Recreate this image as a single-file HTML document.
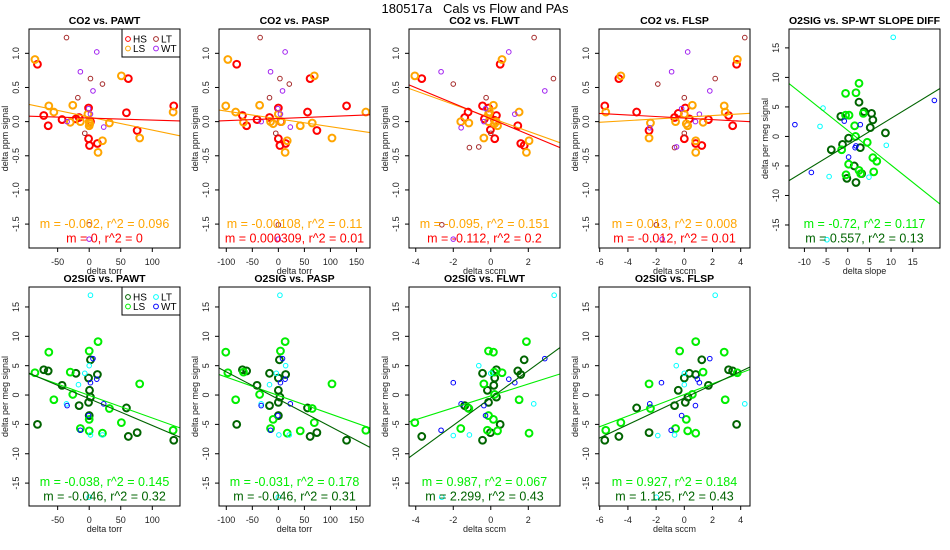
<!DOCTYPE html>
<html><head><meta charset="utf-8"><style>
body{margin:0;background:#fff;}
svg{display:block;font-family:"Liberation Sans",sans-serif;}
</style></head><body>
<svg id="chart" width="950" height="550" viewBox="0 0 950 550" xmlns="http://www.w3.org/2000/svg">
<rect width="950" height="550" fill="#fff"/>
<text x="475" y="13" text-anchor="middle" font-size="13" fill="#000" style="white-space:pre" xml:space="preserve">180517a   Cals vs Flow and PAs</text>
</svg>
<script>
// ---- data ----
const p1HS=[[-82,0.84],[-72,0.09],[-65,-0.06],[-43,0.03],[-21,0.04],[-16,0.06],[-1,0.2],[-1,-0.25],[0.5,-0.35],[2,0],[13,-0.32],[59,0.13],[62,0.63],[76,-0.13],[134,0.23]];
const p1LS=[[-86,0.91],[-64,0.23],[-56,0.14],[-30,-0.01],[-26,0.24],[-14,0],[-2,0.11],[0,-0.06],[0,0],[1,-0.03],[14,-0.45],[21,-0.28],[32,-0.02],[51,0.67],[80,-0.24],[133,0.14]];
const p1LT=[[-36,1.23],[-18,0.35],[-7,-0.17],[2,0.63],[21,0.55],[0,-1.51]];
const p1WT=[[12,1.02],[-14,0.73],[6,0.45],[-35,0],[-1,0.19],[2,0.11],[23,-0.08],[0,-1.72]];
const p1Fit=[[-0.00192,0.068],[-0.00029,0.052]];

const p2HS=[[-80,0.84],[-69,0.09],[-61,-0.06],[-41,0.03],[-17,0.06],[0,0.2],[0,-0.25],[3,-0.35],[5,0],[14,-0.32],[56,0.14],[61,0.63],[74,-0.13],[131,0.23]];
const p2LS=[[-97,0.91],[-101,0.23],[-82,0.14],[-67,-0.01],[-36,0.24],[-15,0],[-10,-0.03],[0,0.11],[6,0],[13,-0.45],[17,-0.28],[42,-0.06],[65,-0.02],[69,0.67],[103,-0.24],[168,0.14]];
const p2LT=[[-35,1.23],[-17,0.35],[-5,-0.17],[3,0.63],[21,0.55],[0,-1.51]];
const p2WT=[[13,1.02],[-15,0.73],[8,0.45],[-33,0],[-1,0.19],[4,0.11],[23,-0.08],[0,-1.72]];
const p2Fit=[[-0.00114,0.04],[0.00031,0.045]];

const p3HS=[[-3.68,0.63],[-1.21,0.14],[-1.39,0.06],[-0.44,0.23],[-0.34,0.04],[-0.12,0.2],[-0.02,-0.12],[0.21,-0.25],[0.3,0.09],[0.2,0.02],[0.5,0.84],[1.44,-0.06],[1.6,-0.32],[1.78,-0.35]];
const p3LS=[[-4.05,0.67],[-1.6,0],[-1.17,-0.02],[-0.37,-0.24],[-0.12,0],[-0.12,0.11],[-0.07,0.14],[0.14,0.24],[0.2,-0.03],[0.28,0],[0.36,-0.06],[0.6,0.91],[1.51,0.14],[1.9,-0.45],[2.04,-0.28]];
const p3LT=[[-2,0.55],[-0.25,0.35],[0,-0.17],[2.31,1.23],[3.34,0.63],[-1.14,-0.38],[-2.61,-1.51],[-0.64,-0.37]];
const p3WT=[[-2.65,0.73],[0.96,1.02],[2.88,0.45],[-1.58,-0.09],[-0.37,0],[-0.28,0.19],[1.28,0.11],[-2,-1.72]];
const p3Fit=[[-0.0987,0.055],[-0.114,0.041]];

const p4HS=[[-5.64,0.23],[-4.64,0.63],[-3.38,0.14],[-2.5,-0.13],[-0.69,0.06],[-0.43,0.12],[0,-0.25],[0.07,0.2],[0.36,0.04],[0.81,-0.32],[1.24,-0.35],[1.71,0.03],[3.14,0.09],[3.43,-0.06],[3.71,0.84]];
const p4LS=[[-5.57,0.14],[-4.5,0.67],[-2.4,-0.02],[-2.5,-0.24],[-0.62,0],[0,0.11],[0.14,-0.03],[0.24,-0.06],[0.57,0.24],[0.81,-0.28],[0.81,-0.45],[1.33,-0.01],[2.83,0.23],[2.9,0.14],[3.76,0.91]];
const p4LT=[[-1.88,0.55],[0,0.35],[0,-0.17],[2.19,0.63],[4.29,1.23],[-0.69,-0.38],[-1.98,-1.51]];
const p4WT=[[-0.9,0.73],[0.24,1.02],[1.81,0.45],[-0.19,0.19],[1.07,0.11],[0.79,0],[-2.45,-0.09],[-1.57,-1.72],[-0.55,-0.37]];
const p4Fit=[[0.0123,0.064],[-0.0113,0.052]];

const p5HS=[[2.6,5.8],[3.8,4.2],[5.5,3.9],[5.8,2.8],[5.2,1.5],[8.7,0.6],[-1.6,3.4],[0.2,-0.3],[-1.2,-1.35],[-3.8,-2.25],[2.9,-1.9],[1.5,-5],[3.2,-6.3],[-0.2,-7.1],[1.9,-7.8]];
const p5LS=[[2.6,9],[-0.5,7.3],[1.9,7.4],[0.3,3.6],[-0.5,3.6],[3.6,3.9],[1.6,1.8],[1.8,0],[4.5,-1],[-1.4,-2.25],[5.8,-3.6],[6.7,-4.2],[0.2,-4.7],[-0.4,-6.5],[2.6,-5.75],[3,-6.3],[6,-6]];
const p5LT=[[10.5,16.8],[-5.7,4.8],[-6.4,1.7],[8.9,-1.5],[4.9,-6.9],[-4.8,-17.5],[-4.3,-6.8]];
const p5WT=[[20,6.1],[-12.2,2],[-8.4,-6.1],[-0.8,2.6],[2.9,2.0],[0.2,-3.5],[1.9,-1.6],[1.7,-1.9]];
const p5Fit=[[-0.586,1.02],[0.448,-1.42]];

const p6HS=[[-82,-5],[-72,4.3],[-65,4.1],[-43,1.65],[-21,3.7],[-16,-1.8],[-1,2.9],[-1,-1.25],[0.5,0.8],[2,6],[2,-0.35],[0,-3.5],[13,3.5],[59,-2.2],[62,-7.05],[76,-6.4],[134,-7.7]];
const p6LS=[[-86,3.8],[-64,7.3],[-56,-0.8],[-30,3.9],[-26,0.1],[-14,-5.7],[0,7.5],[0,-4.15],[0,-6.1],[14,9.1],[21,-6.5],[32,-2.3],[51,-4.7],[80,1.9],[133,-6]];
const p6LT=[[2,17],[-7,3.7],[-17,1.76],[-36,-1.5],[21,-6.8],[0,-17.4],[0,5],[2,-6.8]];
const p6WT=[[6,6.2],[12,2.7],[2,2.1],[-35,-1.8],[23,-1.5],[-1,-3.5],[-14,-6]];
const p6Fit=[[-0.0385,-0.06],[-0.0456,-0.63]];

const p7HS=[[-80,-5],[-69,4.3],[-61,4.1],[-41,1.65],[-17,3.7],[-17,-1.8],[0,2.9],[0,-1.25],[0,0.8],[2,6],[3,-0.35],[0,-3.5],[14,3.5],[56,-2.2],[61,-7.05],[74,-6.4],[131,-7.7]];
const p7LS=[[-101,7.3],[-97,3.8],[-82,-0.8],[-67,3.9],[-36,0.1],[-15,-5.7],[-10,-4.15],[4,7.5],[13,9.1],[17,-6.5],[42,-6.1],[65,-2.3],[69,-4.7],[103,1.9],[168,-6]];
const p7LT=[[3,17],[-4,3.7],[-17,1.76],[-33,-1.5],[21,-6.8],[0,-17.4],[14,5],[1,-6.8]];
const p7WT=[[8,6.2],[13,2.7],[4,2.1],[-33,-1.8],[23,-1.5],[-1,-3.5],[-15,-6]];
const p7Fit=[[-0.0314,-0.08],[-0.0466,-0.71]];

const p8HS=[[-3.68,-7.05],[-1.39,-1.8],[-1.21,-2.2],[-0.44,3.7],[-0.44,-7.7],[-0.18,0.8],[-0.12,-1.25],[-0.02,-6.4],[0.16,1.65],[0.21,2.9],[0.3,4.3],[0.3,-0.35],[0.5,-5],[1.44,4.1],[1.6,3.5],[1.78,6]];
const p8LS=[[-4.05,-4.7],[-1.6,-5.7],[-1.17,-2.3],[-0.37,1.9],[-0.12,7.5],[-0.12,-3.5],[-0.18,-6],[0.14,7.3],[0.14,-4.15],[0.2,0.1],[0.36,-6.1],[0.6,3.8],[1.51,-0.8],[1.9,9.1],[2.04,-6.5],[0.18,3.9]];
const p8LT=[[3.38,17],[-2,-6.9],[-2.61,-17.4],[2.29,-1.5],[0,3.7],[-1.14,-6.8],[-0.64,5]];
const p8WT=[[2.88,6.2],[0.96,2.7],[1.28,2.1],[-2,2.1],[-1.58,-1.5],[-0.37,-1.8],[-0.28,-3.5],[-2.65,-6]];
const p8Fit=[[1.013,-0.15],[2.33,-0.51]];

const p9HS=[[-5.64,-7.7],[-4.64,-7.05],[-3.38,-2.2],[-2.5,-6.4],[-0.69,-1.8],[-0.43,0.8],[0.07,-1.25],[0,2.9],[0.26,-0.35],[0.36,3.7],[0.81,3.5],[1.24,6],[1.71,1.65],[3.14,4.3],[3.43,4.1],[3.71,-5]];
const p9LS=[[-5.57,-6],[-4.5,-4.7],[-2.5,1.9],[-2.4,-2.3],[-0.62,-5.7],[-0.33,7.5],[0.14,-4.15],[0.24,-6.1],[0.57,0.1],[0.81,9.1],[0.81,-6.5],[1.33,3.9],[2.83,7.3],[2.9,-0.8],[3.76,3.8]];
const p9LT=[[2.19,17],[0,3.7],[0,1.76],[4.29,-1.5],[-1.88,-6.9],[-1.98,-17.4],[-0.57,5],[-0.69,-6.8]];
const p9WT=[[1.81,6.2],[0.93,2.7],[1.07,2.1],[-1.62,2.1],[-2.45,-1.5],[0.79,-1.8],[-0.19,-3.5],[-0.93,-6]];
const p9Fit=[[0.915,0.09],[1.132,-0.51]];

const co2YTicks=[-1.5,-1.0,-0.5,0.0,0.5,1.0];
const co2YLabels=["-1.5","-1.0","-0.5","0.0","0.5","1.0"];
const o2YTicks=[-15,-10,-5,0,5,10,15];
const torrWtTicks=[-50,0,50,100];
const torrSpTicks=[-100,-50,0,50,100,150];
const flwtTicks=[-4,-2,0,2];
const flspTicks=[-6,-4,-2,0,2,4];
const slopeTicks=[-10,-5,0,5,10,15];
const groupNames=["HS","LS","LT","WT"];

// ---- rendering ----
const NS="http://www.w3.org/2000/svg";
const svg=document.getElementById('chart');
function mk(tag,attrs,parent){const e=document.createElementNS(NS,tag);for(const k in attrs)e.setAttribute(k,attrs[k]);(parent||svg).appendChild(e);return e;}
const co2Col={HS:"#ff0000",LS:"#ffa500",LT:"#a52a2a",WT:"#a020f0",fit:["#ffa500","#ff0000"]};
const o2Col={HS:"#006400",LS:"#00ee00",LT:"#00ffff",WT:"#0000ff",fit:["#00ee00","#006400"]};

const panels=[
 {id:"co2-vs-pawt",title:"CO2 vs. PAWT",x0:29,y0:29,xl:[-95.4,143.9],yl:[-1.85,1.356],xt:torrWtTicks,yt:co2YTicks,ytl:co2YLabels,xlab:"delta torr",ylab:"delta ppm signal",data:[p1HS,p1LS,p1LT,p1WT],fit:p1Fit,col:co2Col,st:["m = -0.002, r^2 = 0.096","m = 0, r^2 = 0"],legend:true},
 {id:"co2-vs-pasp",title:"CO2 vs. PASP",x0:219,y0:29,xl:[-114,176],yl:[-1.85,1.356],xt:torrSpTicks,yt:co2YTicks,ytl:co2YLabels,xlab:"delta torr",ylab:"delta ppm signal",data:[p2HS,p2LS,p2LT,p2WT],fit:p2Fit,col:co2Col,st:["m = -0.00108, r^2 = 0.11","m = 0.000309, r^2 = 0.01"]},
 {id:"co2-vs-flwt",title:"CO2 vs. FLWT",x0:409,y0:29,xl:[-4.36,3.69],yl:[-1.85,1.356],xt:flwtTicks,yt:co2YTicks,ytl:co2YLabels,xlab:"delta sccm",ylab:"delta ppm signal",data:[p3HS,p3LS,p3LT,p3WT],fit:p3Fit,col:co2Col,st:["m = -0.095, r^2 = 0.151","m = -0.112, r^2 = 0.2"]},
 {id:"co2-vs-flsp",title:"CO2 vs. FLSP",x0:599,y0:29,xl:[-6.05,4.66],yl:[-1.85,1.356],xt:flspTicks,yt:co2YTicks,ytl:co2YLabels,xlab:"delta sccm",ylab:"delta ppm signal",data:[p4HS,p4LS,p4LT,p4WT],fit:p4Fit,col:co2Col,st:["m = 0.013, r^2 = 0.008","m = -0.012, r^2 = 0.01"]},
 {id:"o2sig-vs-slope-diff",title:"O2SIG vs. SP-WT SLOPE DIFF",x0:789,y0:29,xl:[-13.56,21.3],yl:[-18.9,18.2],xt:slopeTicks,yt:o2YTicks,ytl:o2YTicks.map(String),xlab:"delta slope",ylab:"delta per meg signal",data:[p5HS,p5LS,p5LT,p5WT],fit:p5Fit,col:o2Col,st:["m = -0.72, r^2 = 0.117","m = 0.557, r^2 = 0.13"]},
 {id:"o2sig-vs-pawt",title:"O2SIG vs. PAWT",x0:29,y0:287,xl:[-95.4,143.9],yl:[-18.9,18.4],xt:torrWtTicks,yt:o2YTicks,ytl:o2YTicks.map(String),xlab:"delta torr",ylab:"delta per meg signal",data:[p6HS,p6LS,p6LT,p6WT],fit:p6Fit,col:o2Col,st:["m = -0.038, r^2 = 0.145","m = -0.046, r^2 = 0.32"],legend:true},
 {id:"o2sig-vs-pasp",title:"O2SIG vs. PASP",x0:219,y0:287,xl:[-114,176],yl:[-18.9,18.4],xt:torrSpTicks,yt:o2YTicks,ytl:o2YTicks.map(String),xlab:"delta torr",ylab:"delta per meg signal",data:[p7HS,p7LS,p7LT,p7WT],fit:p7Fit,col:o2Col,st:["m = -0.031, r^2 = 0.178","m = -0.046, r^2 = 0.31"]},
 {id:"o2sig-vs-flwt",title:"O2SIG vs. FLWT",x0:409,y0:287,xl:[-4.36,3.69],yl:[-18.9,18.4],xt:flwtTicks,yt:o2YTicks,ytl:o2YTicks.map(String),xlab:"delta sccm",ylab:"delta per meg signal",data:[p8HS,p8LS,p8LT,p8WT],fit:p8Fit,col:o2Col,st:["m = 0.987, r^2 = 0.067","m = 2.299, r^2 = 0.43"]},
 {id:"o2sig-vs-flsp",title:"O2SIG vs. FLSP",x0:599,y0:287,xl:[-6.05,4.66],yl:[-18.9,18.4],xt:flspTicks,yt:o2YTicks,ytl:o2YTicks.map(String),xlab:"delta sccm",ylab:"delta per meg signal",data:[p9HS,p9LS,p9LT,p9WT],fit:p9Fit,col:o2Col,st:["m = 0.927, r^2 = 0.184","m = 1.125, r^2 = 0.43"]}
];
const W=151,H=219;
panels.forEach(p=>{
 const g=mk('g',{});
 
 
 const sx=v=>p.x0+(v-p.xl[0])/(p.xl[1]-p.xl[0])*W;
 const sy=v=>p.y0+H-(v-p.yl[0])/(p.yl[1]-p.yl[0])*H;
 const clip=mk('clipPath',{id:'clip-'+p.id},g);
 mk('rect',{x:p.x0,y:p.y0,width:W,height:H},clip);
 const t=mk('text',{x:p.x0+W/2,y:p.y0-5,'text-anchor':'middle','font-size':'10.5','font-weight':'bold'},g);
 t.textContent=p.title;
 
 
 const xb=p.y0+H;
 mk('line',{x1:sx(p.xt[0]),x2:sx(p.xt[p.xt.length-1]),y1:xb,y2:xb,stroke:'#000','stroke-width':1},g);
 p.xt.forEach(v=>{
  mk('line',{x1:sx(v),x2:sx(v),y1:xb,y2:xb+4,stroke:'#000','stroke-width':1},g);
  const tl=mk('text',{x:sx(v),y:xb+17,'text-anchor':'middle','font-size':'9',fill:'#222'},g);
  tl.textContent=String(v);
  
  
 });
 p.yt.forEach((v,i)=>{
  mk('line',{x1:p.x0-4,x2:p.x0,y1:sy(v),y2:sy(v),stroke:'#000','stroke-width':1},g);
  const yy=sy(v),xx=p.x0-10;
  const tl=mk('text',{x:xx,y:yy,'text-anchor':'middle','font-size':'9',fill:'#222',transform:`rotate(-90 ${xx} ${yy})`},g);
  tl.textContent=p.ytl[i];
  
  
 });
 mk('line',{x1:p.x0,x2:p.x0,y1:sy(p.yt[0]),y2:sy(p.yt[p.yt.length-1]),stroke:'#000'},g);
 const xlab=mk('text',{x:p.x0+W/2,y:xb+26,'text-anchor':'middle','font-size':'9',fill:'#222'},g);
 xlab.textContent=p.xlab;
 
 
 const lx=p.x0-21,ly=p.y0+H/2;
 const ylab=mk('text',{x:lx,y:ly,'text-anchor':'middle','font-size':'9',fill:'#222',transform:`rotate(-90 ${lx} ${ly})`},g);
 ylab.textContent=p.ylab;
 
 
 const pg=mk('g',{'clip-path':`url(#clip-${p.id})`},g);
 p.data.forEach((arr,gi)=>{
  const name=groupNames[gi];const thick=gi<2;
  arr.forEach(pt=>{
   const c=mk('circle',{cx:sx(pt[0]),cy:sy(pt[1]),r:thick?3.4:2.3,fill:'none',stroke:p.col[name],'stroke-width':thick?2:1},pg);
   
   
  });
 });
 p.fit.forEach((f,fi)=>{
  const l=mk('line',{x1:sx(p.xl[0]),y1:sy(f[0]*p.xl[0]+f[1]),x2:sx(p.xl[1]),y2:sy(f[0]*p.xl[1]+f[1]),stroke:p.col.fit[fi],'stroke-width':1.1},pg);
  
  
 });
 p.st.forEach((s,si)=>{
  const st=mk('text',{x:p.x0+W/2,y:p.y0+H-20+si*14.5,'text-anchor':'middle','font-size':'12.5',fill:p.col.fit[si]},g);
  st.textContent=s;
  
  
 });
 mk('rect',{x:p.x0,y:p.y0,width:W,height:H,fill:'none',stroke:'#000','stroke-width':1},g);
 if(p.legend){
  const lg=mk('g',{},g);
  
  
  mk('rect',{x:p.x0+93,y:p.y0,width:58,height:28,fill:'#fff',stroke:'#000'},lg);
  groupNames.forEach((n,i)=>{
   const cx=p.x0+99+(i>=2?28:0), cy=p.y0+10+(i%2)*9.5;
   const c=mk('circle',{cx:cx,cy:cy,r:2.4,fill:'none',stroke:p.col[n],'stroke-width':1},lg);
   
   
   const tx=mk('text',{x:cx+5,y:cy+3.5,'font-size':'10',fill:'#000'},lg);
   tx.textContent=n;
   
   
  });
 }
});
</script>
</body></html>
